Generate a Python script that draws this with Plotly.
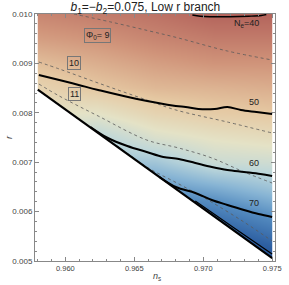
import plotly.graph_objects as go

# ---------------- data ----------------
# colour field (N_e) on a coarse grid
grid_n = [0.958, 0.9623, 0.9665, 0.9708, 0.975]
grid_r = [0.005, 0.0055, 0.006, 0.0065, 0.007, 0.0075, 0.008, 0.0085, 0.009, 0.0095, 0.010]
grid_Ne = [
    [85, 85, 85, 85, 82],
    [82, 82, 82, 80, 75],
    [77, 76, 75, 73, 68.7],
    [70, 69, 68.5, 65.8, 62.7],
    [64, 63, 62.5, 58.2, 57.7],
    [58, 60.5, 56.5, 54.7, 53.7],
    [55, 55, 52, 50.6, 50],
    [52, 50, 48.5, 48, 47.5],
    [49, 47.5, 46, 45, 45],
    [46, 45, 43.5, 42.5, 42.5],
    [43.5, 42.5, 41.5, 40, 40],
]

# lower edge of the allowed region
bound_n = [0.958, 0.960, 0.9625, 0.965, 0.9675, 0.970, 0.9725, 0.975]
bound_r = [0.00847, 0.00807, 0.00757, 0.00707, 0.00656, 0.00606, 0.00556, 0.00506]

# N_e contours (solid)
ne40_n = [0.96921, 0.96978, 0.97048, 0.97189, 0.97330, 0.97421, 0.97457]
ne40_r = [0.00998, 0.009955, 0.009945, 0.009945, 0.009955, 0.00997, 0.00999]
ne50_n = [0.95808, 0.95956, 0.96097, 0.96238, 0.96520, 0.96801, 0.96872, 0.96964, 0.97083, 0.97175, 0.97273, 0.97386, 0.97499]
ne50_r = [0.008765, 0.008664, 0.008563, 0.008462, 0.008279, 0.008138, 0.008117, 0.008077, 0.008077, 0.008117, 0.008057, 0.008016, 0.007976]
ne60_n = [0.96182, 0.96308, 0.96449, 0.96590, 0.96710, 0.96823, 0.96942, 0.97062, 0.97175, 0.97295, 0.97414, 0.97499]
ne60_r = [0.007713, 0.007490, 0.007328, 0.007206, 0.007105, 0.007065, 0.006984, 0.006903, 0.006842, 0.006802, 0.006761, 0.006721]
ne70_n = [0.96682, 0.96801, 0.96942, 0.97062, 0.97175, 0.97295, 0.97400, 0.97499]
ne70_r = [0.006700, 0.006498, 0.006377, 0.006235, 0.006134, 0.006032, 0.005951, 0.005891]
ne80_n = [0.96942, 0.97224, 0.97499]
ne80_r = [0.006215, 0.005668, 0.005142]

# Phi_0 contours (dashed)
phi9_n = [0.96062, 0.96330, 0.96610, 0.96821, 0.97174, 0.97499]
phi9_r = [0.010000, 0.009838, 0.009656, 0.009514, 0.009251, 0.009069]
phi10_n = [0.95808, 0.95956, 0.96238, 0.96590, 0.96801, 0.97174, 0.97499]
phi10_r = [0.009028, 0.008887, 0.008603, 0.008259, 0.008057, 0.007814, 0.007591]
phi11_n = [0.95808, 0.95956, 0.96238, 0.96590, 0.96823, 0.97062, 0.97295, 0.97499]
phi11_r = [0.008583, 0.008340, 0.007935, 0.007449, 0.007287, 0.007085, 0.006802, 0.006579]
phi12_n = [0.96379, 0.96590, 0.96823, 0.97034, 0.97295, 0.97499]
phi12_r = [0.007328, 0.006903, 0.006559, 0.006235, 0.005789, 0.005405]

# labels
label_text = ["Φ<sub>0</sub>= 9", "10", "11", "N<sub>e</sub>=40", "50", "60", "70"]
label_n = [0.96231, 0.96062, 0.96069, 0.97316, 0.97365, 0.97365, 0.97365]
label_r = [0.009555, 0.009018, 0.008381, 0.009798, 0.008219, 0.006984, 0.006174]
label_boxed = [True, True, True, False, False, False, False]

X_RANGE = [0.9578, 0.9752]
Y_RANGE = [0.005, 0.010]

colorscale = [
    [0.0, "rgb(180,100,92)"],
    [0.111, "rgb(208,148,122)"],
    [0.222, "rgb(229,200,162)"],
    [0.333, "rgb(228,226,198)"],
    [0.444, "rgb(188,214,218)"],
    [0.556, "rgb(135,180,212)"],
    [0.667, "rgb(85,140,192)"],
    [0.844, "rgb(45,95,162)"],
    [1.0, "rgb(30,70,140)"],
]

FONT = "Liberation Sans, Arial, sans-serif"

fig = go.Figure()
fig.add_trace(go.Heatmap(x=grid_n, y=grid_r, z=grid_Ne, zsmooth="best",
                         colorscale=colorscale, zmin=40, zmax=85,
                         showscale=False, hoverinfo="skip"))

# white mask outside the allowed region
pad = 0.001
mx = [X_RANGE[0] - pad, bound_n[0]] + bound_n + [bound_n[-1], X_RANGE[1] + pad, X_RANGE[1] + pad, X_RANGE[0] - pad]
my = [Y_RANGE[1] + pad, Y_RANGE[1] + pad] + bound_r + [Y_RANGE[1] + pad, Y_RANGE[1] + pad, Y_RANGE[0] - pad, Y_RANGE[0] - pad]
fig.add_trace(go.Scatter(x=mx, y=my, fill="toself", fillcolor="white",
                         line=dict(width=0), mode="lines", hoverinfo="skip"))

dash_style = dict(color="rgba(90,90,90,0.9)", width=0.9, dash="3px,3px")
for xs, ys in [(phi9_n, phi9_r), (phi10_n, phi10_r), (phi11_n, phi11_r), (phi12_n, phi12_r)]:
    fig.add_trace(go.Scatter(x=xs, y=ys, mode="lines", line=dict(shape="spline", **dash_style),
                             hoverinfo="skip"))

for xs, ys, w in [(ne40_n, ne40_r, 1.4), (ne50_n, ne50_r, 2), (ne60_n, ne60_r, 2),
                  (ne70_n, ne70_r, 2), (ne80_n, ne80_r, 1.2)]:
    fig.add_trace(go.Scatter(x=xs, y=ys, mode="lines",
                             line=dict(color="black", width=w, shape="spline"), hoverinfo="skip"))

fig.add_trace(go.Scatter(x=bound_n, y=bound_r, mode="lines",
                         line=dict(color="black", width=2.2), hoverinfo="skip"))

for t, xn, yr, boxed in zip(label_text, label_n, label_r, label_boxed):
    fig.add_annotation(x=xn, y=yr, text=t, showarrow=False,
                       font=dict(size=9, color="#222", family=FONT),
                       bordercolor="#777" if boxed else None,
                       borderwidth=1 if boxed else 0, borderpad=1)

# axis titles
fig.add_annotation(xref="paper", yref="paper", x=0.507, y=-0.062, text="<i>n</i><sub>s</sub>",
                   showarrow=False, xanchor="center", yanchor="middle",
                   font=dict(size=9, color="#444", family=FONT))
fig.add_annotation(xref="paper", yref="paper", x=-0.11, y=0.5, text="<i>r</i>", textangle=-90,
                   showarrow=False, xanchor="center", yanchor="middle",
                   font=dict(size=9, color="#444", family=FONT))

axis_common = dict(showline=True, linecolor="#888", linewidth=1, mirror="ticks",
                   ticks="inside", ticklen=4, tickcolor="#888", showgrid=False, zeroline=False,
                   tickformat=".3f", ticklabeloverflow="allow")
fig.update_xaxes(range=X_RANGE, tick0=0.960, dtick=0.005,
                 minor=dict(dtick=0.001, ticklen=2, ticks="inside", tickcolor="#888"),
                 tickfont=dict(size=7.5, color="#444", family=FONT),
                 **axis_common)
fig.update_yaxes(range=Y_RANGE, tick0=0.005, dtick=0.001,
                 minor=dict(dtick=0.0002, ticklen=2, ticks="inside", tickcolor="#888"),
                 tickfont=dict(size=8, color="#444", family=FONT),
                 **axis_common)

fig.update_layout(
    width=289, height=285,
    margin=dict(l=35, r=7, t=14, b=24),
    paper_bgcolor="white", plot_bgcolor="white",
    showlegend=False,
    title=dict(text="<i>b</i><sub>1</sub>=−<i>b</i><sub>2</sub>=0.075, Low r branch",
               xref="paper", x=0.46, xanchor="center", y=0.99, yanchor="top",
               font=dict(size=12, color="#222", family=FONT)),
)

fig.write_html("out.html", config={"displayModeBar": False},
               post_script="document.body.style.margin='0';document.body.style.padding='0';")
